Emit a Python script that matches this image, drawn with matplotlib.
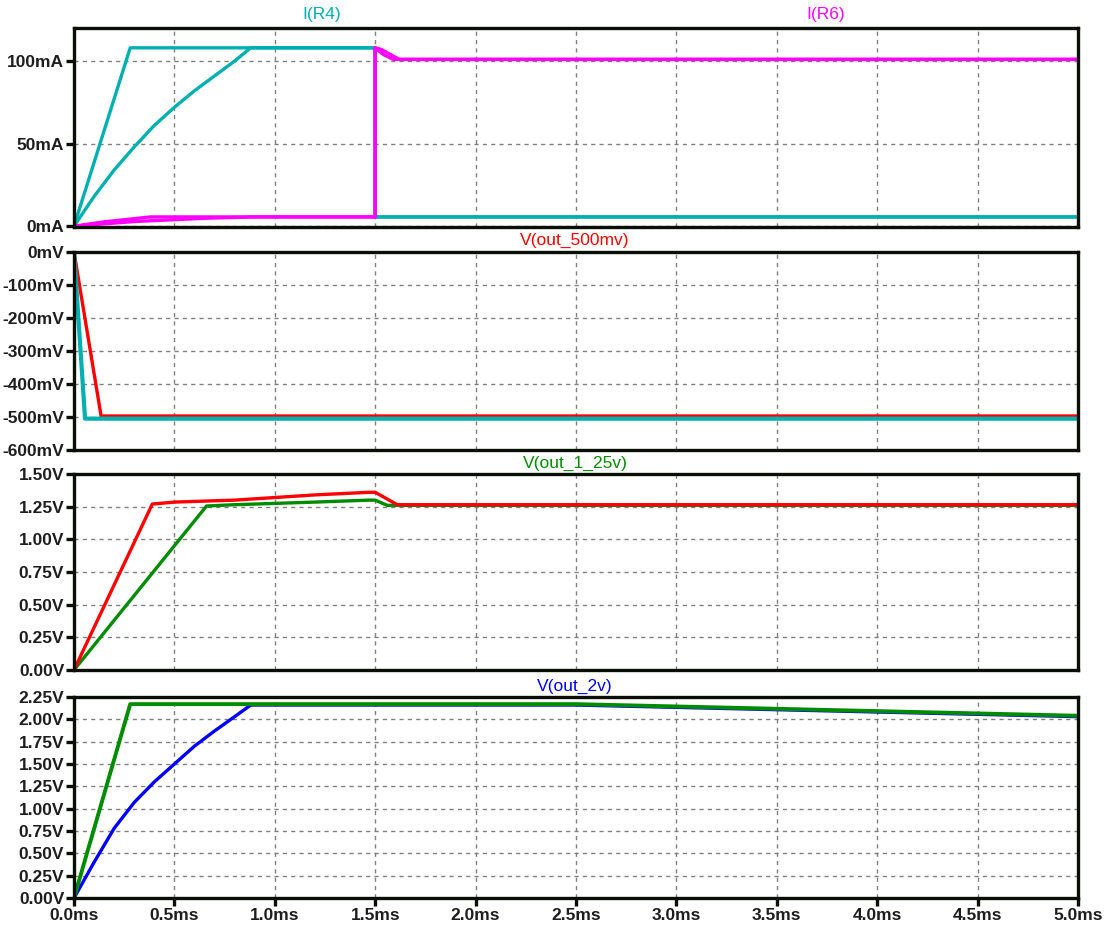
import matplotlib.pyplot as plt
import matplotlib.ticker as ticker

plt.rcParams['font.family'] = ['Liberation Sans', 'DejaVu Sans']

# ---- data (time in ms) ----
# panel 1: I(R4) cyan, I(R6) magenta, in mA
r4_fast_t = [0, 0.28, 1.5, 1.5, 5.0]
r4_fast = [0, 108, 108, 5.6, 5.6]
r4_slow_t = [0, 0.1, 0.2, 0.3, 0.4, 0.5, 0.6, 0.7, 0.8, 0.88, 1.5, 1.5, 5.0]
r4_slow = [0, 18, 34, 48, 61, 72, 82, 91, 100, 108, 108, 5.6, 5.6]
r6_a_t = [0, 0.15, 0.38, 1.5, 1.5, 1.53, 1.62, 5.0]
r6_a = [0, 2.6, 5.6, 5.6, 108, 107, 101, 101]
r6_b_t = [0, 0.3, 0.65, 0.9, 1.5, 1.5, 1.54, 1.59, 5.0]
r6_b = [0, 2.8, 4.8, 5.6, 5.6, 108, 104, 101, 101]

# panel 2: V(out_500mv) in mV
v500_red_t = [0, 0.135, 5.0]
v500_red = [0, -497, -497]
v500_cyan_t = [0, 0.055, 5.0]
v500_cyan = [0, -505, -505]

# panel 3: V(out_1_25v) in V
v125_red_t = [0, 0.39, 0.5, 0.8, 1.0, 1.2, 1.47, 1.5, 1.61, 5.0]
v125_red = [0, 1.27, 1.285, 1.30, 1.32, 1.34, 1.36, 1.36, 1.265, 1.265]
v125_green_t = [0, 0.66, 0.8, 1.0, 1.2, 1.47, 1.5, 1.56, 5.0]
v125_green = [0, 1.255, 1.265, 1.275, 1.285, 1.30, 1.30, 1.26, 1.26]

# panel 4: V(out_2v) in V
v2_blue_t = [0, 0.1, 0.2, 0.3, 0.4, 0.5, 0.6, 0.7, 0.8, 0.88, 2.5, 5.0]
v2_blue = [0, 0.40, 0.78, 1.07, 1.30, 1.50, 1.70, 1.87, 2.03, 2.16, 2.16, 2.03]
v2_green_t = [0, 0.28, 2.5, 5.0]
v2_green = [0, 2.17, 2.17, 2.04]

x_ticks = [0, 0.5, 1.0, 1.5, 2.0, 2.5, 3.0, 3.5, 4.0, 4.5, 5.0]

CYAN = '#00B0B0'
MAG = '#FF00FF'
RED = '#FF0000'
GREEN = '#008C00'
BLUE = '#0000FF'
LW = 2.4

W, H = 1107, 930
fig = plt.figure(figsize=(W / 100, H / 100), dpi=100)

def make_ax(top, bottom):
    left, right = 74, 1078
    return fig.add_axes([left / W, 1 - bottom / H, (right - left) / W, (bottom - top) / H])

ax1 = make_ax(28, 227)
ax2 = make_ax(252, 450)
ax3 = make_ax(474, 670)
ax4 = make_ax(697, 898)

ax1.plot(r4_fast_t, r4_fast, color=CYAN, lw=LW)
ax1.plot(r4_slow_t, r4_slow, color=CYAN, lw=LW)
ax1.plot(r6_b_t, r6_b, color=MAG, lw=LW)
ax1.plot(r6_a_t, r6_a, color=MAG, lw=LW)
ax1.set_ylim(-0.5, 120)
ax1.set_yticks([0, 50, 100])
ax1.yaxis.set_major_formatter(ticker.FuncFormatter(lambda v, _: f'{v:.0f}mA'))

ax2.plot(v500_red_t, v500_red, color=RED, lw=LW)
ax2.plot(v500_cyan_t, v500_cyan, color=CYAN, lw=LW + 0.6)
ax2.set_ylim(-600, 0)
ax2.set_yticks([0, -100, -200, -300, -400, -500, -600])
ax2.yaxis.set_major_formatter(ticker.FuncFormatter(lambda v, _: f'{v:.0f}mV'))

ax3.plot(v125_green_t, v125_green, color=GREEN, lw=LW)
ax3.plot(v125_red_t, v125_red, color=RED, lw=LW)
ax3.set_ylim(0, 1.5)
ax3.set_yticks([0, 0.25, 0.5, 0.75, 1.0, 1.25, 1.5])
ax3.yaxis.set_major_formatter(ticker.FuncFormatter(lambda v, _: f'{v:.2f}V'))

ax4.plot(v2_blue_t, v2_blue, color=BLUE, lw=LW)
ax4.plot(v2_green_t, v2_green, color=GREEN, lw=LW + 0.4)
ax4.set_ylim(0, 2.25)
ax4.set_yticks([0, 0.25, 0.5, 0.75, 1.0, 1.25, 1.5, 1.75, 2.0, 2.25])
ax4.yaxis.set_major_formatter(ticker.FuncFormatter(lambda v, _: f'{v:.2f}V'))

for ax in (ax1, ax2, ax3, ax4):
    ax.set_xlim(0, 5.0)
    ax.set_xticks(x_ticks)
    ax.grid(True, color='#808080', linestyle=(0, (3, 3)), linewidth=1.0)
    for sp in ax.spines.values():
        sp.set_linewidth(2.4)
        sp.set_color('#0a0f05')
    ax.tick_params(axis='y', length=6, width=2.4, color='#0a0f05', labelsize=12.5,
                   labelcolor='#1e1e1e', pad=1)
    for lab in ax.get_yticklabels():
        lab.set_fontweight('bold')
    if ax is ax4:
        ax.xaxis.set_major_formatter(ticker.FuncFormatter(lambda v, _: f'{v:.1f}ms'))
        ax.tick_params(axis='x', length=6, width=2.4, color='#0a0f05', labelsize=12.5,
                       labelcolor='#1e1e1e', pad=1)
        for lab in ax.get_xticklabels():
            lab.set_fontweight('bold')
    else:
        ax.tick_params(axis='x', length=0, labelbottom=False)

fig.text(322 / W, 1 - 14 / H, 'I(R4)', color=CYAN, fontsize=12.5, ha='center', va='center')
fig.text(826 / W, 1 - 14 / H, 'I(R6)', color=MAG, fontsize=12.5, ha='center', va='center')
fig.text(575 / W, 1 - 240 / H, 'V(out_500mv)', color=RED, fontsize=12.5, ha='center', va='center')
fig.text(575 / W, 1 - 463 / H, 'V(out_1_25v)', color=GREEN, fontsize=12.5, ha='center', va='center')
fig.text(575 / W, 1 - 686 / H, 'V(out_2v)', color=BLUE, fontsize=12.5, ha='center', va='center')

fig.savefig('out.png', dpi=100, facecolor='white')
